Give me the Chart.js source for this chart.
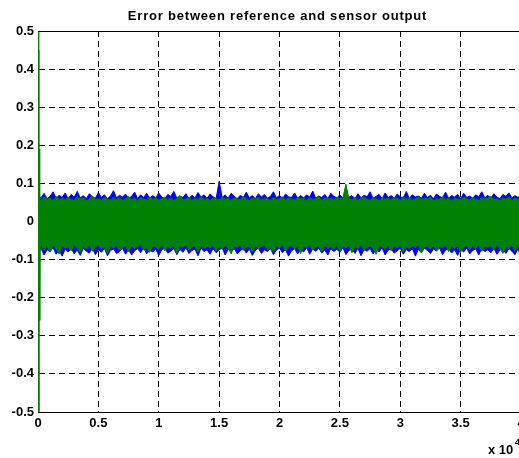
<!DOCTYPE html>
<html>
<head>
<meta charset="utf-8">
<script src="https://cdn.jsdelivr.net/npm/chart.js@4.4.1/dist/chart.umd.min.js"></script>
<style>
html, body { margin: 0; padding: 0; background: #fff; overflow: hidden; }
#wrap { width: 519px; height: 458px; overflow: hidden; }
</style>
</head>
<body>
<div id="wrap"><canvas id="errChart" width="560" height="458"></canvas></div>
<script>
const chartTitle = 'Error between reference and sensor output';
const xTicks = [0, 0.5, 1, 1.5, 2, 2.5, 3, 3.5, 4];
const yTicks = [-0.5, -0.4, -0.3, -0.2, -0.1, 0, 0.1, 0.2, 0.3, 0.4, 0.5];

// envelope of each noisy signal, one value every 0.025 (x 10^4 samples)
const blueUpper = [
  0.070, 0.062, 0.074, 0.060, 0.066, 0.078, 0.061, 0.069, 0.063, 0.075,
  0.060, 0.071, 0.064, 0.079, 0.062, 0.068, 0.060, 0.073, 0.065, 0.061,
  0.076, 0.063, 0.070, 0.060, 0.067, 0.081, 0.062, 0.069, 0.064, 0.072,
  0.061, 0.066, 0.077, 0.060, 0.070, 0.063, 0.074, 0.061, 0.068, 0.062,
  0.075, 0.064, 0.060, 0.071, 0.066, 0.079, 0.061, 0.067, 0.063, 0.073,
  0.060, 0.069, 0.062, 0.076, 0.064, 0.070, 0.061, 0.072, 0.065, 0.060,
  0.106, 0.063, 0.070, 0.061, 0.074, 0.066, 0.060, 0.069, 0.063, 0.077,
  0.062, 0.068, 0.060, 0.073, 0.064, 0.071, 0.061, 0.066, 0.078, 0.062,
  0.069, 0.060, 0.072, 0.065, 0.063, 0.075, 0.061, 0.068, 0.062, 0.070,
  0.064, 0.080, 0.061, 0.067, 0.063, 0.071, 0.060, 0.074, 0.066, 0.062,
  0.070, 0.061, 0.076, 0.064, 0.068, 0.060, 0.073, 0.062, 0.069, 0.065,
  0.078, 0.061, 0.066, 0.071, 0.060, 0.075, 0.063, 0.068, 0.061, 0.072,
  0.065, 0.062, 0.079, 0.060, 0.070, 0.064, 0.067, 0.061, 0.074, 0.063,
  0.069, 0.060, 0.072, 0.066, 0.062, 0.077, 0.061, 0.068, 0.064, 0.071,
  0.060, 0.074, 0.063, 0.067, 0.061, 0.070, 0.065, 0.078, 0.062, 0.069,
  0.061, 0.073, 0.064, 0.060, 0.071, 0.066, 0.075, 0.062, 0.068, 0.063,
  0.070];
const blueLower = [
  -0.082, -0.071, -0.088, -0.074, -0.079, -0.069, -0.086, -0.076, -0.091, -0.072,
  -0.080, -0.070, -0.085, -0.075, -0.089, -0.071, -0.078, -0.083, -0.069, -0.087,
  -0.074, -0.081, -0.070, -0.090, -0.076, -0.072, -0.084, -0.079, -0.070, -0.086,
  -0.073, -0.088, -0.077, -0.071, -0.082, -0.069, -0.085, -0.075, -0.080, -0.072,
  -0.089, -0.074, -0.070, -0.083, -0.078, -0.071, -0.087, -0.073, -0.081, -0.069,
  -0.084, -0.076, -0.072, -0.090, -0.070, -0.079, -0.074, -0.086, -0.071, -0.082,
  -0.075, -0.069, -0.088, -0.073, -0.080, -0.071, -0.085, -0.077, -0.070, -0.083,
  -0.072, -0.089, -0.076, -0.070, -0.084, -0.074, -0.079, -0.071, -0.087, -0.075,
  -0.070, -0.082, -0.073, -0.091, -0.077, -0.071, -0.085, -0.074, -0.080, -0.069,
  -0.086, -0.072, -0.078, -0.070, -0.083, -0.075, -0.088, -0.071, -0.079, -0.073,
  -0.081, -0.069, -0.087, -0.076, -0.072, -0.084, -0.070, -0.090, -0.074, -0.078,
  -0.071, -0.085, -0.073, -0.080, -0.069, -0.088, -0.075, -0.072, -0.083, -0.077,
  -0.070, -0.086, -0.074, -0.079, -0.071, -0.091, -0.073, -0.082, -0.070, -0.076,
  -0.084, -0.072, -0.078, -0.069, -0.087, -0.075, -0.071, -0.083, -0.074, -0.089,
  -0.073, -0.080, -0.070, -0.085, -0.076, -0.072, -0.088, -0.071, -0.079, -0.074,
  -0.082, -0.070, -0.086, -0.075, -0.073, -0.084, -0.071, -0.078, -0.087, -0.072,
  -0.093];
const greenUpper = [
  0.060, 0.055, 0.064, 0.058, 0.062, 0.054, 0.066, 0.057, 0.061, 0.056,
  0.063, 0.058, 0.055, 0.065, 0.059, 0.062, 0.054, 0.060, 0.067, 0.057,
  0.061, 0.055, 0.063, 0.059, 0.056, 0.064, 0.058, 0.062, 0.055, 0.060,
  0.066, 0.057, 0.061, 0.054, 0.063, 0.059, 0.056, 0.065, 0.058, 0.062,
  0.055, 0.060, 0.064, 0.057, 0.061, 0.054, 0.062, 0.068, 0.056, 0.059,
  0.063, 0.055, 0.060, 0.058, 0.065, 0.057, 0.061, 0.054, 0.062, 0.059,
  0.056, 0.064, 0.058, 0.061, 0.055, 0.063, 0.059, 0.057, 0.066, 0.060,
  0.054, 0.062, 0.058, 0.064, 0.056, 0.061, 0.059, 0.055, 0.063, 0.057,
  0.060, 0.065, 0.055, 0.062, 0.058, 0.056, 0.064, 0.059, 0.061, 0.054,
  0.063, 0.057, 0.060, 0.066, 0.055, 0.062, 0.058, 0.061, 0.056, 0.064,
  0.059, 0.062, 0.098, 0.060, 0.057, 0.063, 0.055, 0.061, 0.065, 0.058,
  0.056, 0.062, 0.059, 0.054, 0.064, 0.058, 0.061, 0.057, 0.063, 0.060,
  0.055, 0.066, 0.058, 0.062, 0.056, 0.060, 0.064, 0.057, 0.061, 0.059,
  0.063, 0.055, 0.060, 0.058, 0.065, 0.057, 0.062, 0.054, 0.061, 0.059,
  0.057, 0.064, 0.060, 0.056, 0.062, 0.058, 0.055, 0.063, 0.059, 0.061,
  0.066, 0.057, 0.060, 0.055, 0.062, 0.059, 0.064, 0.056, 0.061, 0.058,
  0.063];
const greenLower = [
  -0.068, -0.062, -0.075, -0.065, -0.080, -0.063, -0.071, -0.085, -0.064, -0.070,
  -0.066, -0.077, -0.062, -0.069, -0.082, -0.065, -0.073, -0.061, -0.078, -0.067,
  -0.063, -0.072, -0.066, -0.084, -0.064, -0.070, -0.062, -0.076, -0.068, -0.065,
  -0.079, -0.063, -0.071, -0.066, -0.062, -0.074, -0.069, -0.081, -0.064, -0.067,
  -0.072, -0.061, -0.077, -0.065, -0.070, -0.063, -0.083, -0.066, -0.068, -0.062,
  -0.075, -0.067, -0.064, -0.080, -0.063, -0.071, -0.065, -0.069, -0.062, -0.078,
  -0.066, -0.073, -0.063, -0.070, -0.085, -0.064, -0.068, -0.062, -0.076, -0.067,
  -0.065, -0.081, -0.063, -0.071, -0.066, -0.062, -0.074, -0.068, -0.079, -0.064,
  -0.070, -0.062, -0.077, -0.066, -0.063, -0.072, -0.065, -0.084, -0.064, -0.069,
  -0.062, -0.075, -0.067, -0.064, -0.080, -0.063, -0.070, -0.066, -0.073, -0.062,
  -0.078, -0.065, -0.069, -0.063, -0.082, -0.066, -0.071, -0.062, -0.075, -0.068,
  -0.064, -0.070, -0.086, -0.063, -0.067, -0.073, -0.062, -0.077, -0.065, -0.069,
  -0.063, -0.080, -0.066, -0.071, -0.064, -0.068, -0.062, -0.083, -0.067, -0.065,
  -0.072, -0.063, -0.076, -0.066, -0.069, -0.062, -0.079, -0.065, -0.070, -0.064,
  -0.081, -0.067, -0.063, -0.074, -0.065, -0.071, -0.062, -0.078, -0.066, -0.068,
  -0.064, -0.075, -0.063, -0.070, -0.084, -0.066, -0.069, -0.062, -0.077, -0.065,
  -0.071];

// start-up transient at the left edge
const blueStartX = [0, 0.004, 0.008];
const blueStartY = [0.45, -0.5, 0.0];
const greenStartX = [0.002, 0.006, 0.010, 0.014, 0.020];
const greenStartY = [0.5, -0.5, 0.19, -0.26, 0.0];

const sampleX = blueUpper.map((_, i) => i * 0.025);
const BLUE = '#0000ff';
const GREEN = '#008000';
const FONT = '"Liberation Sans", Arial, sans-serif';

function toPoints(xs, ys) {
    return ys.map((y, i) => ({ x: xs[i], y }));
}

function band(data, color, fill, order) {
    return {
        data,
        borderColor: color,
        backgroundColor: color,
        borderWidth: 1,
        pointRadius: 0,
        tension: 0,
        fill,
        order
    };
}

const frameAndText = {
    id: 'frameAndText',
    afterDraw(chart) {
        const { ctx, chartArea: a } = chart;
        ctx.save();
        ctx.strokeStyle = '#000';
        ctx.lineWidth = 1;
        ctx.beginPath();
        ctx.moveTo(a.left, Math.round(a.top) + 0.5);
        ctx.lineTo(a.right, Math.round(a.top) + 0.5);
        ctx.stroke();

        ctx.fillStyle = '#000';
        ctx.font = `bold 13px ${FONT}`;
        ctx.letterSpacing = '0.8px';
        ctx.textAlign = 'center';
        ctx.textBaseline = 'alphabetic';
        ctx.fillText(chartTitle, (a.left + a.right) / 2 - 2, 20);

        ctx.letterSpacing = '0px';
        ctx.textAlign = 'left';
        ctx.fillText('x 10', 488, 454);
        ctx.font = `bold 9px ${FONT}`;
        ctx.fillText('4', 515, 445);
        ctx.restore();
    }
};

const ctx = document.getElementById('errChart').getContext('2d');
new Chart(ctx, {
    type: 'line',
    data: {
        datasets: [
            band(toPoints(blueStartX, blueStartY), BLUE, false, 1),
            band(toPoints(greenStartX, greenStartY), GREEN, false, 0),
            band(toPoints(sampleX, greenUpper), GREEN, '+1', 2),
            band(toPoints(sampleX, greenLower), GREEN, false, 2),
            band(toPoints(sampleX, blueUpper), BLUE, '+1', 3),
            band(toPoints(sampleX, blueLower), BLUE, false, 3)
        ]
    },
    options: {
        responsive: false,
        animation: false,
        devicePixelRatio: 1,
        layout: { padding: { left: 0, right: 39, top: 31, bottom: 0 } },
        plugins: {
            legend: { display: false },
            title: { display: false },
            tooltip: { enabled: false }
        },
        scales: {
            x: {
                type: 'linear',
                min: 0,
                max: 4,
                afterBuildTicks: s => { s.ticks = xTicks.map(v => ({ value: v })); },
                afterFit: s => { s.height = 46; },
                ticks: {
                    color: '#000',
                    font: { family: FONT, size: 13, weight: 'bold' },
                    padding: 4,
                    maxRotation: 0,
                    autoSkip: false,
                    callback: v => String(v)
                },
                grid: { color: '#000', lineWidth: 1, drawTicks: false },
                border: { display: true, color: '#000', width: 1, dash: [6, 4] }
            },
            y: {
                min: -0.5,
                max: 0.5,
                afterBuildTicks: s => { s.ticks = yTicks.map(v => ({ value: v })); },
                afterFit: s => { s.width = 38; },
                ticks: {
                    color: '#000',
                    font: { family: FONT, size: 13, weight: 'bold' },
                    padding: 4,
                    autoSkip: false,
                    callback: v => String(Math.round(v * 10) / 10)
                },
                grid: { color: '#000', lineWidth: 1, drawTicks: false },
                border: { display: true, color: '#000', width: 1, dash: [6, 4] }
            }
        }
    },
    plugins: [frameAndText]
});
</script>
</body>
</html>
